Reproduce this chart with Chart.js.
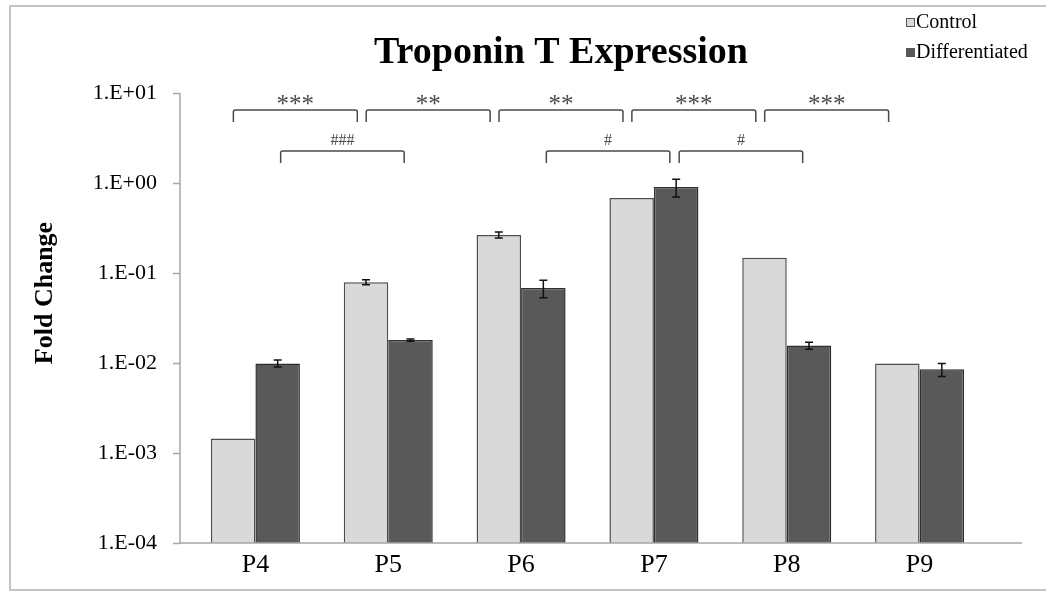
<!DOCTYPE html>
<html>
<head>
<meta charset="utf-8">
<title>Troponin T Expression</title>
<script src="https://cdn.jsdelivr.net/npm/chart.js@4.4.1/dist/chart.umd.min.js"></script>
<style>
  html, body { margin: 0; padding: 0; background: #fff; }
  #wrap { position: relative; width: 1046px; height: 592px; }
</style>
</head>
<body>
<div id="wrap"><canvas id="grafico-troponina" width="1046" height="592"></canvas></div>
<script>
// ==========================================
// 1. DATOS
// ==========================================

const pasajes = ['P4', 'P5', 'P6', 'P7', 'P8', 'P9'];

const control = [0.00145, 0.079, 0.265, 0.68, 0.148, 0.0099];
const controlErr = [0, 0.005, 0.02, 0, 0, 0];

const diferenciado = [0.0099, 0.018, 0.068, 0.9, 0.0156, 0.0085];
const diferenciadoErr = [0.0009, 0.0005, 0.015, 0.2, 0.0014, 0.0014];

const yTickValues = [1e-4, 1e-3, 1e-2, 1e-1, 1, 10];
const yTickLabels = ['1.E-04', '1.E-03', '1.E-02', '1.E-01', '1.E+00', '1.E+01'];

const titulo = 'Troponin T Expression';
const tituloEjeY = 'Fold Change';
const nombresSeries = ['Control', 'Differentiated'];

// comparaciones: fila 0 = control vs control (*), fila 1 = dif. vs dif. (#)
const comparaciones = [
    { from: 'P4', to: 'P5', label: '***', row: 0 },
    { from: 'P5', to: 'P6', label: '**', row: 0 },
    { from: 'P6', to: 'P7', label: '**', row: 0 },
    { from: 'P7', to: 'P8', label: '***', row: 0 },
    { from: 'P8', to: 'P9', label: '***', row: 0 },
    { from: 'P4', to: 'P5', label: '###', row: 1 },
    { from: 'P6', to: 'P7', label: '#', row: 1 },
    { from: 'P7', to: 'P8', label: '#', row: 1 }
];

// ==========================================
// 2. ESTILOS
// ==========================================

const SERIF = "'Liberation Serif', 'Times New Roman', serif";
const colorControl = '#d9d9d9';
const colorDif = '#595959';
const colorEje = '#a6a6a6';

// ==========================================
// 3. PLUGIN: ejes, barras de error, corchetes, título y leyenda
// ==========================================

const extrasPlugin = {
    id: 'extras',
    afterDatasetsDraw(chart) {
        const ctx = chart.ctx;
        const x = chart.scales.x;
        const y = chart.scales.y;
        const area = chart.chartArea;
        const ejeX = area.left - 9;

        ctx.save();

        // marco exterior
        ctx.strokeStyle = '#c4c4c4';
        ctx.lineWidth = 2;
        ctx.strokeRect(10, 6, 1100, 584);

        // ejes
        ctx.strokeStyle = colorEje;
        ctx.lineWidth = 1.5;
        ctx.beginPath();
        ctx.moveTo(ejeX, y.getPixelForValue(10));
        ctx.lineTo(ejeX, area.bottom);
        ctx.lineTo(1022, area.bottom);
        yTickValues.forEach(v => {
            const py = Math.round(y.getPixelForValue(v)) + 0.5;
            ctx.moveTo(ejeX - 7, py);
            ctx.lineTo(ejeX, py);
        });
        ctx.stroke();

        // barras de error
        ctx.strokeStyle = '#111';
        ctx.lineWidth = 1.5;
        [[control, controlErr], [diferenciado, diferenciadoErr]].forEach((par, di) => {
            const meta = chart.getDatasetMeta(di);
            par[0].forEach((v, i) => {
                const e = par[1][i];
                if (!e) return;
                const px = meta.data[i].x;
                const top = y.getPixelForValue(v + e);
                const bot = y.getPixelForValue(v - e);
                ctx.beginPath();
                ctx.moveTo(px, top); ctx.lineTo(px, bot);
                ctx.moveTo(px - 4, top); ctx.lineTo(px + 4, top);
                ctx.moveTo(px - 4, bot); ctx.lineTo(px + 4, bot);
                ctx.stroke();
            });
        });

        // corchetes de significancia
        const paso = x.getPixelForValue(1) - x.getPixelForValue(0);
        ctx.strokeStyle = '#4a4a4a';
        ctx.fillStyle = '#4a4a4a';
        ctx.lineWidth = 1.5;
        ctx.textAlign = 'center';
        ctx.textBaseline = 'middle';
        comparaciones.forEach(c => {
            const cf = x.getPixelForValue(pasajes.indexOf(c.from));
            const ct = x.getPixelForValue(pasajes.indexOf(c.to));
            let x1, x2, ly;
            if (c.row === 0) {
                x1 = cf - 0.166 * paso; x2 = ct - 0.233 * paso; ly = 110;
            } else {
                x1 = cf + 0.19 * paso; x2 = ct + 0.12 * paso; ly = 151;
            }
            ctx.beginPath();
            ctx.moveTo(x1, ly + 12);
            ctx.lineTo(x1, ly + 2);
            ctx.quadraticCurveTo(x1, ly, x1 + 2, ly);
            ctx.lineTo(x2 - 2, ly);
            ctx.quadraticCurveTo(x2, ly, x2, ly + 2);
            ctx.lineTo(x2, ly + 12);
            ctx.stroke();
            if (c.row === 0) {
                ctx.font = '25px ' + SERIF;
                ctx.fillText(c.label, (x1 + x2) / 2, ly - 5);
            } else {
                ctx.font = '16px ' + SERIF;
                ctx.fillText(c.label, (x1 + x2) / 2, ly - 10);
            }
        });

        // título
        ctx.fillStyle = '#000';
        ctx.font = 'bold 38px ' + SERIF;
        ctx.textBaseline = 'alphabetic';
        ctx.fillText(titulo, 561, 63);

        // título eje Y
        ctx.save();
        ctx.translate(45, 293);
        ctx.rotate(-Math.PI / 2);
        ctx.font = 'bold 26px ' + SERIF;
        ctx.textBaseline = 'middle';
        ctx.fillText(tituloEjeY, 0, 0);
        ctx.restore();

        // leyenda
        ctx.textAlign = 'left';
        ctx.textBaseline = 'middle';
        ctx.font = '20px ' + SERIF;
        [colorControl, colorDif].forEach((col, i) => {
            const ly = 22 + i * 30;
            ctx.fillStyle = col;
            ctx.fillRect(906, ly - 4, 9, 9);
            ctx.strokeStyle = '#555';
            ctx.lineWidth = 1;
            ctx.strokeRect(906.5, ly - 3.5, 8, 8);
            ctx.fillStyle = '#000';
            ctx.fillText(nombresSeries[i], 916, ly + 1);
        });

        ctx.restore();
    }
};

// ==========================================
// 4. GRÁFICO
// ==========================================

new Chart(document.getElementById('grafico-troponina'), {
    type: 'bar',
    data: {
        labels: pasajes,
        datasets: [{
            label: nombresSeries[0],
            data: control,
            backgroundColor: colorControl,
            borderColor: '#4d4d4d',
            borderWidth: 1.5,
            categoryPercentage: 0.67,
            barPercentage: 1
        }, {
            label: nombresSeries[1],
            data: diferenciado,
            backgroundColor: colorDif,
            borderColor: '#2e2e2e',
            borderWidth: 1.5,
            categoryPercentage: 0.67,
            barPercentage: 1
        }]
    },
    options: {
        responsive: false,
        animation: false,
        layout: { padding: { top: 93, left: 30, right: 60, bottom: 0 } },
        plugins: {
            legend: { display: false },
            title: { display: false },
            tooltip: { enabled: false }
        },
        scales: {
            x: {
                grid: { display: false, drawTicks: false },
                border: { display: false },
                ticks: { color: '#000', padding: 7, font: { family: SERIF, size: 26 } },
                afterFit: s => { s.height = 49; }
            },
            y: {
                type: 'logarithmic',
                min: 1e-4,
                max: 10,
                grid: { display: false, drawTicks: false },
                border: { display: false },
                afterBuildTicks: s => { s.ticks = yTickValues.map(v => ({ value: v })); },
                ticks: {
                    color: '#000',
                    padding: 32,
                    font: { family: SERIF, size: 22 },
                    callback: v => yTickLabels[yTickValues.indexOf(v)] ?? ''
                },
                afterFit: s => { s.width = 159; }
            }
        }
    },
    plugins: [extrasPlugin]
});
</script>
</body>
</html>
